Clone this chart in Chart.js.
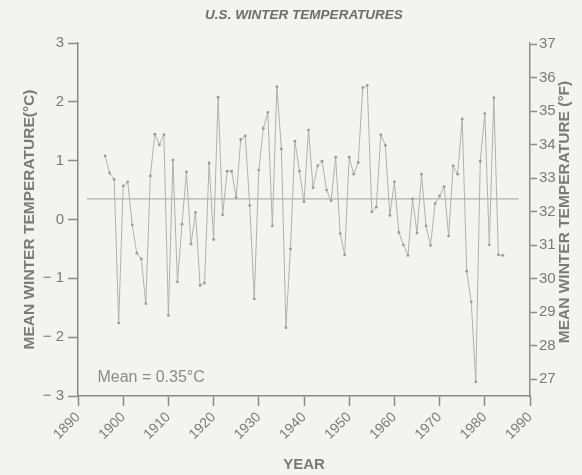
<!DOCTYPE html>
<html>
<head>
<meta charset="utf-8">
<script src="https://cdn.jsdelivr.net/npm/chart.js@4.4.1/dist/chart.umd.min.js"></script>
<style>
  html, body { margin: 0; padding: 0; background: #f3f3f1; }
  canvas { display: block; }
</style>
</head>
<body>
<canvas id="c" width="582" height="475"></canvas>
<script>
// ---- data ----
const chartTitle = 'U.S. WINTER TEMPERATURES';
const leftAxisTitle = 'MEAN WINTER TEMPERATURE(°C)';
const rightAxisTitle = 'MEAN WINTER TEMPERATURE (°F)';
const xAxisTitle = 'YEAR';
const meanLabel = 'Mean = 0.35°C';
const meanValueC = 0.35;
const meanLineYears = [1892, 1987.5];

const years = [];
for (let y = 1896; y <= 1984; y++) years.push(y);

const tempsC = [
  1.08, 0.79, 0.68, -1.76, 0.57, 0.64, -0.09, -0.57, -0.67, -1.43,   // 1896-1905
  0.74, 1.45, 1.27, 1.44, -1.63, 1.01, -1.06, -0.08, 0.81, -0.42,    // 1906-1915
  0.12, -1.12, -1.08, 0.96, -0.34, 2.08, 0.08, 0.82, 0.82, 0.37,     // 1916-1925
  1.36, 1.42, 0.24, -1.35, 0.84, 1.55, 1.82, -0.11, 2.26, 1.20,      // 1926-1935
  -1.84, -0.50, 1.33, 0.82, 0.30, 1.52, 0.54, 0.91, 0.99, 0.50,      // 1936-1945
  0.32, 1.06, -0.24, -0.60, 1.06, 0.77, 0.97, 2.24, 2.28, 0.13,      // 1946-1955
  0.21, 1.44, 1.26, 0.07, 0.64, -0.22, -0.43, -0.61, 0.35, -0.23,    // 1956-1965
  0.77, -0.11, -0.44, 0.27, 0.40, 0.56, -0.28, 0.91, 0.77, 1.71,     // 1966-1975
  -0.88, -1.40, -2.76, 0.99, 1.80, -0.43, 2.07, -0.60, -0.61         // 1976-1984
];

const celsiusTicks = [-3, -2, -1, 0, 1, 2, 3];
const fahrenheitTicks = [27, 28, 29, 30, 31, 32, 33, 34, 35, 36, 37];
const yearTicks = [1890, 1900, 1910, 1920, 1930, 1940, 1950, 1960, 1970, 1980, 1990];

// ---- styling ----
const FONT = '"Liberation Sans", Arial, Helvetica, sans-serif';
const TEXT = '#7a7a7a';
const AXIS = '#8a8a8a';

const overlay = {
  id: 'overlay',
  afterDraw(chart) {
    const ctx = chart.ctx;
    const xs = chart.scales.x, ys = chart.scales.y;
    ctx.save();
    // chart title
    ctx.fillStyle = '#6e6e6e';
    ctx.font = 'italic bold 13.5px ' + FONT;
    ctx.textAlign = 'center';
    ctx.textBaseline = 'middle';
    ctx.fillText(chartTitle, 304, 15);
    // right axis title (reads bottom-to-top)
    ctx.fillStyle = TEXT;
    ctx.font = 'bold 15.5px ' + FONT;
    ctx.translate(565, 212);
    ctx.rotate(-Math.PI / 2);
    ctx.fillText(rightAxisTitle, 0, 0);
    ctx.restore();
    // mean label
    ctx.save();
    ctx.fillStyle = '#8a8a8a';
    ctx.font = '16px ' + FONT;
    ctx.textAlign = 'left';
    ctx.textBaseline = 'middle';
    ctx.fillText(meanLabel, xs.getPixelForValue(1894.3), ys.getPixelForValue(-2.68));
    ctx.restore();
  }
};

new Chart(document.getElementById('c'), {
  type: 'line',
  data: {
    datasets: [
      {
        data: years.map((yr, i) => ({ x: yr, y: tempsC[i] })),
        borderColor: '#b0b0b0',
        borderWidth: 1,
        pointRadius: 1.4,
        pointBackgroundColor: '#9a9a9a',
        pointBorderWidth: 0,
        tension: 0,
        yAxisID: 'y'
      },
      {
        data: meanLineYears.map(yr => ({ x: yr, y: meanValueC })),
        borderColor: '#a0a0a0',
        borderWidth: 1,
        pointRadius: 0,
        tension: 0,
        yAxisID: 'y'
      }
    ]
  },
  options: {
    responsive: false,
    animation: false,
    devicePixelRatio: 1,
    layout: { padding: { top: 43, left: 0, right: 0, bottom: 0 } },
    plugins: { legend: { display: false }, tooltip: { enabled: false }, title: { display: false } },
    scales: {
      x: {
        type: 'linear',
        min: 1890, max: 1990,
        afterBuildTicks: s => { s.ticks = yearTicks.map(v => ({ value: v })); },
        afterFit: s => { s.height = 79; },
        grid: { drawOnChartArea: false, drawTicks: true, tickLength: 10, tickColor: AXIS, tickWidth: 1.5 },
        border: { display: true, color: AXIS, width: 1.5 },
        ticks: {
          autoSkip: false, maxRotation: 45, minRotation: 45, padding: 3,
          color: TEXT, font: { family: FONT, size: 14 },
          callback: v => String(v)
        },
        title: { display: true, text: xAxisTitle, color: TEXT, font: { family: FONT, size: 15, weight: 'bold' }, padding: { top: 0, bottom: 1 } }
      },
      y: {
        type: 'linear', position: 'left',
        min: -3, max: 3,
        afterBuildTicks: s => { s.ticks = celsiusTicks.map(v => ({ value: v })); },
        afterFit: s => { s.width = 78; },
        grid: { drawOnChartArea: false, drawTicks: true, tickLength: 10, tickColor: AXIS, tickWidth: 1.5 },
        border: { display: true, color: AXIS, width: 1.5 },
        ticks: {
          padding: 4, color: TEXT, font: { family: FONT, size: 15 },
          callback: v => v < 0 ? '\u2212 ' + Math.abs(v) : String(v)
        },
        title: { display: true, text: leftAxisTitle, color: TEXT, font: { family: FONT, size: 15.5, weight: 'bold' }, padding: { top: 20, bottom: 0 } }
      },
      y2: {
        type: 'linear', position: 'right', display: true,
        min: 26.5, max: 37.03,
        afterBuildTicks: s => { s.ticks = fahrenheitTicks.map(v => ({ value: v })); },
        afterFit: s => { s.width = 52; },
        grid: { drawOnChartArea: false, drawTicks: true, tickLength: 7, tickColor: AXIS, tickWidth: 1.5 },
        border: { display: true, color: AXIS, width: 1.5 },
        ticks: { padding: 2, color: TEXT, font: { family: FONT, size: 15 }, callback: v => String(v) }
      }
    }
  },
  plugins: [overlay]
});
</script>
</body>
</html>
